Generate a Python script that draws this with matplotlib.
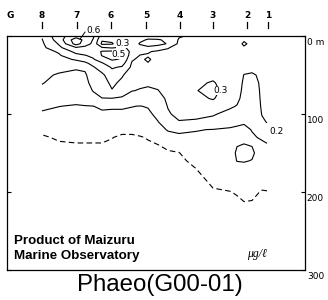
import numpy as np
import matplotlib
matplotlib.use("Agg")
import matplotlib.pyplot as plt
from matplotlib.transforms import blended_transform_factory

# ---------------- data ----------------
station_names = ["G", "8", "7", "6", "5", "4", "3", "2", "1"]
station_x = [10, 42, 77, 111, 146, 180, 213, 247, 268]   # along-section position
depth_ticks = [0, 100, 200, 300]
depth_labels = ["0 m", "100", "200", "300"]
levels = [0.05, 0.1, 0.2, 0.3, 0.4, 0.5, 0.6]
label_levels = [0.3, 0.5, 0.3, 0.2]

depth_m = [0, 5, 10, 15, 20, 25, 30, 35, 40, 50, 60, 70, 80, 90, 100, 110,
           120, 130, 140, 150, 160, 180, 200, 220]
grid_x = [42, 59, 76, 85, 93, 102, 112, 122, 132, 140, 148, 158, 168, 179,
          196, 213, 230, 237, 244, 252, 262, 267]

c042 = [0.31, 0.295, 0.285, 0.275, 0.265, 0.257, 0.25, 0.242, 0.235, 0.22, 0.205, 0.18, 0.155, 0.115, 0.09, 0.075, 0.06, 0.045, 0.04, 0.035, 0.03, 0.03, 0.03, 0.03]
c059 = [0.47, 0.45, 0.41, 0.38, 0.31, 0.29, 0.27, 0.25, 0.23, 0.19, 0.17, 0.15, 0.125, 0.101, 0.085, 0.075, 0.065, 0.055, 0.045, 0.04, 0.035, 0.03, 0.03, 0.03]
c076 = [0.55, 0.66, 0.64, 0.49, 0.43, 0.37, 0.31, 0.26, 0.21, 0.18, 0.16, 0.14, 0.12, 0.095, 0.085, 0.075, 0.065, 0.055, 0.048, 0.04, 0.035, 0.03, 0.03, 0.03]
c085 = [0.56, 0.57, 0.55, 0.47, 0.44, 0.395, 0.34, 0.28, 0.22, 0.185, 0.165, 0.145, 0.125, 0.098, 0.087, 0.075, 0.065, 0.055, 0.048, 0.04, 0.035, 0.03, 0.03, 0.03]
c093 = [0.52, 0.495, 0.48, 0.46, 0.44, 0.42, 0.39, 0.33, 0.29, 0.26, 0.24, 0.205, 0.16, 0.099, 0.085, 0.075, 0.065, 0.055, 0.048, 0.04, 0.035, 0.03, 0.03, 0.03]
c102 = [0.36, 0.31, 0.28, 0.41, 0.51, 0.505, 0.45, 0.39, 0.35, 0.28, 0.26, 0.235, 0.198, 0.11, 0.09, 0.075, 0.065, 0.055, 0.048, 0.04, 0.035, 0.03, 0.03, 0.03]
c112 = [0.35, 0.32, 0.29, 0.39, 0.52, 0.53, 0.51, 0.46, 0.41, 0.36, 0.32, 0.295, 0.198, 0.11, 0.085, 0.07, 0.06, 0.051, 0.045, 0.04, 0.035, 0.03, 0.03, 0.03]
c122 = [0.36, 0.36, 0.37, 0.42, 0.51, 0.515, 0.49, 0.44, 0.39, 0.31, 0.28, 0.24, 0.19, 0.11, 0.085, 0.07, 0.058, 0.045, 0.042, 0.04, 0.035, 0.03, 0.03, 0.03]
c132 = [0.37, 0.37, 0.37, 0.37, 0.36, 0.34, 0.31, 0.29, 0.28, 0.25, 0.23, 0.203, 0.16, 0.102, 0.085, 0.07, 0.058, 0.045, 0.042, 0.04, 0.035, 0.03, 0.03, 0.03]
c140 = [0.37, 0.39, 0.405, 0.38, 0.32, 0.297, 0.28, 0.27, 0.26, 0.24, 0.215, 0.195, 0.16, 0.098, 0.085, 0.07, 0.06, 0.048, 0.044, 0.04, 0.035, 0.03, 0.03, 0.03]
c148 = [0.38, 0.405, 0.42, 0.39, 0.31, 0.29, 0.315, 0.295, 0.27, 0.24, 0.21, 0.19, 0.16, 0.105, 0.085, 0.07, 0.06, 0.052, 0.046, 0.04, 0.035, 0.03, 0.03, 0.03]
c158 = [0.37, 0.405, 0.42, 0.37, 0.28, 0.27, 0.26, 0.25, 0.24, 0.225, 0.215, 0.198, 0.17, 0.14, 0.12, 0.098, 0.08, 0.063, 0.049, 0.044, 0.038, 0.03, 0.03, 0.03]
c168 = [0.36, 0.39, 0.395, 0.305, 0.285, 0.27, 0.26, 0.255, 0.25, 0.24, 0.23, 0.225, 0.215, 0.205, 0.19, 0.16, 0.105, 0.08, 0.058, 0.046, 0.04, 0.032, 0.03, 0.03]
c179 = [0.31, 0.29, 0.28, 0.27, 0.265, 0.26, 0.255, 0.25, 0.25, 0.25, 0.255, 0.26, 0.255, 0.24, 0.225, 0.195, 0.115, 0.085, 0.062, 0.049, 0.042, 0.035, 0.03, 0.03]
c196 = [0.28, 0.275, 0.27, 0.265, 0.26, 0.26, 0.26, 0.26, 0.265, 0.275, 0.29, 0.298, 0.285, 0.26, 0.23, 0.185, 0.103, 0.09, 0.08, 0.07, 0.06, 0.04, 0.032, 0.03]
c213 = [0.27, 0.265, 0.26, 0.26, 0.255, 0.255, 0.26, 0.265, 0.27, 0.285, 0.305, 0.315, 0.305, 0.275, 0.21, 0.17, 0.098, 0.09, 0.085, 0.08, 0.075, 0.065, 0.045, 0.035]
c230 = [0.265, 0.26, 0.255, 0.25, 0.25, 0.25, 0.25, 0.25, 0.255, 0.26, 0.27, 0.275, 0.26, 0.215, 0.17, 0.125, 0.092, 0.085, 0.085, 0.088, 0.085, 0.07, 0.049, 0.04]
c237 = [0.26, 0.255, 0.25, 0.245, 0.24, 0.24, 0.24, 0.24, 0.24, 0.24, 0.245, 0.24, 0.225, 0.195, 0.16, 0.11, 0.092, 0.092, 0.099, 0.104, 0.101, 0.075, 0.053, 0.04]
c244 = [0.27, 0.285, 0.32, 0.285, 0.27, 0.26, 0.25, 0.24, 0.225, 0.198, 0.185, 0.175, 0.165, 0.15, 0.13, 0.105, 0.09, 0.095, 0.101, 0.11, 0.102, 0.08, 0.058, 0.045]
c252 = [0.265, 0.265, 0.265, 0.26, 0.255, 0.25, 0.24, 0.235, 0.225, 0.19, 0.18, 0.17, 0.16, 0.15, 0.135, 0.12, 0.102, 0.095, 0.099, 0.105, 0.099, 0.08, 0.056, 0.045]
c262 = [0.26, 0.255, 0.25, 0.245, 0.24, 0.235, 0.23, 0.225, 0.22, 0.215, 0.21, 0.21, 0.21, 0.208, 0.203, 0.19, 0.15, 0.105, 0.092, 0.085, 0.08, 0.065, 0.048, 0.04]
c267 = [0.26, 0.255, 0.25, 0.245, 0.24, 0.235, 0.23, 0.225, 0.22, 0.215, 0.213, 0.212, 0.21, 0.21, 0.207, 0.203, 0.18, 0.125, 0.092, 0.082, 0.075, 0.062, 0.049, 0.04]

columns = [c042, c059, c076, c085, c093, c102, c112, c122, c132, c140, c148,
           c158, c168, c179, c196, c213, c230, c237, c244, c252, c262, c267]
Z = np.column_stack(columns)
X, D = np.meshgrid(grid_x, depth_m)

# ---------------- figure ----------------
W, H = 328, 300
fig = plt.figure(figsize=(W / 100, H / 100), dpi=100)
ax = fig.add_axes([7 / W, 1 - 270 / H, 298 / W, 234 / H])
ax.set_xlim(7, 305)
ax.set_ylim(300, 0)

styles = [(0, (5, 3)) if lv < 0.1 else "solid" for lv in levels]
cs = ax.contour(X, D, Z, levels=levels, colors="k", linewidths=0.8,
                linestyles=styles)

# contour labels
lab_pos = [(123, 9), (119, 24), (221, 70), (277, 122)]
for (lx, ly), lv in zip(lab_pos, label_levels):
    ax.text(lx, ly, f"{lv:.1f}", fontsize=6.5, ha="center", va="center",
            family="DejaVu Sans",
            bbox=dict(facecolor="white", edgecolor="none", pad=0.2))
# 0.6 label with leader line above the frame
ax.plot([80, 85], [4, -5], color="k", lw=0.7, clip_on=False)
ax.text(86, -7, f"{levels[-1]:.1f}", fontsize=6.5, ha="left", va="center",
        family="DejaVu Sans", clip_on=False)

# frame / ticks
for sp in ax.spines.values():
    sp.set_linewidth(0.9)
ax.set_xticks([])
ax.set_yticks(depth_ticks)
ax.set_yticklabels([])
ax.tick_params(axis="y", left=True, right=True, direction="in", length=3,
               width=0.8, labelleft=False, labelright=False)
ytr = blended_transform_factory(ax.transAxes, ax.transData)
for d, lab in zip(depth_ticks, depth_labels):
    ax.text(1.006, d + 2, lab, transform=ytr, fontsize=6.5, ha="left",
            va="top", family="DejaVu Sans", clip_on=False)

# station ticks and names above the frame
xtr = blended_transform_factory(ax.transData, fig.transFigure)
for name, sx in zip(station_names, station_x):
    ax.text(sx, 1 - 15 / H, name, transform=xtr, fontsize=6.5, ha="center",
            va="center", family="DejaVu Sans", fontweight="bold")
    if name != "G":
        ax.plot([sx, sx], [1 - 22 / H, 1 - 28 / H], transform=xtr, color="k",
                lw=0.9, clip_on=False)

# annotations
fig.text(14 / W, 1 - 244 / H, "Product of Maizuru", fontsize=9.6,
         family="Liberation Sans", fontweight="bold", va="baseline")
fig.text(14 / W, 1 - 259 / H, "Marine Observatory", fontsize=9.6,
         family="Liberation Sans", fontweight="bold", va="baseline")
fig.text(247 / W, 1 - 257 / H, "μg/ℓ", fontsize=8.5, style="italic",
         family=["Liberation Serif", "DejaVu Serif"], va="baseline")
fig.text(160 / W, 1 - 291 / H, "Phaeo(G00-01)", fontsize=17.3,
         family="Liberation Sans", ha="center", va="baseline")

fig.savefig("out.png", dpi=100)
